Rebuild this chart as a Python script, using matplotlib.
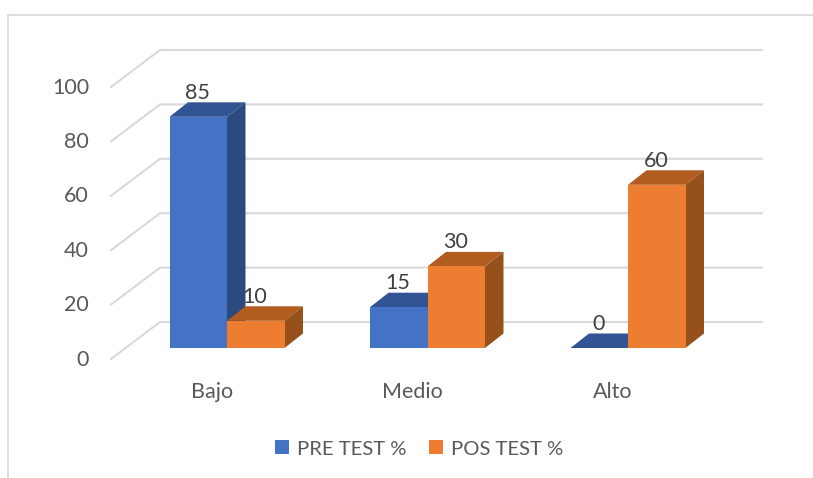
import matplotlib
matplotlib.use('Agg')
import matplotlib.pyplot as plt
from matplotlib.patches import Polygon, Patch

plt.rcParams['font.family'] = ['Lato', 'DejaVu Sans']

categories = ['Bajo', 'Medio', 'Alto']
pre_test = [85, 15, 0]
pos_test = [10, 30, 60]
y_ticks = [0, 20, 40, 60, 80, 100]
series_names = ['PRE TEST %', 'POS TEST %']

blue = ['#4472C4', '#325494', '#2A4A80']
orange = ['#ED7D31', '#B25C1F', '#955119']
grid_color = '#D9D9D9'
text_color = '#595959'
label_color = '#404040'

# scale of the chart, in pixels
px_per_cat = 200.5
px_per_val = 2.72
x0_px = 227
y0_px = 348
W, H = 813, 478

fig = plt.figure(figsize=(W / 100, H / 100), dpi=100)
ax = fig.add_axes([0, 0, 1, 1])
ax.set_xlim(-x0_px / px_per_cat, (W - x0_px) / px_per_cat)
ax.set_ylim((y0_px - H) / px_per_val, y0_px / px_per_val)
ax.axis('off')


def dx(px):
    return px / px_per_cat


def dy(px):
    return px / px_per_val


bar_w = dx(57.5)
depth_x = dx(18.5)
depth_y = dy(14.5)


def draw_bar(left, value, colors, z):
    right = left + bar_w
    ax.add_patch(Polygon([(left, 0), (right, 0), (right, value), (left, value)],
                         facecolor=colors[0], edgecolor='none', zorder=z + 0.2))
    ax.add_patch(Polygon([(left, value), (right, value),
                          (right + depth_x, value + depth_y), (left + depth_x, value + depth_y)],
                         facecolor=colors[1], edgecolor='none', zorder=z))
    ax.add_patch(Polygon([(right, 0), (right + depth_x, depth_y),
                          (right + depth_x, value + depth_y), (right, value)],
                         facecolor=colors[2], edgecolor='none', zorder=z))
    ax.text(left + bar_w / 2 - dx(1), value + dy(24), str(value), ha='center', va='center',
            fontsize=15.5, color=label_color, zorder=10)


# gridlines on the side wall and the back wall
wall_left = (111 - x0_px) / px_per_cat
wall_back = (160 - x0_px) / px_per_cat
wall_right = (762 - x0_px) / px_per_cat
for v in y_ticks:
    front = v - dy(11)
    back = v + dy(26)
    ax.plot([wall_left, wall_back, wall_right], [front, back, back],
            color=grid_color, lw=1.5, zorder=1, solid_joinstyle='miter')
    ax.text(dx(-138), front - dy(0.5), str(v), ha='right', va='center',
            fontsize=15.5, color=text_color)

for i, cat in enumerate(categories):
    draw_bar(i - bar_w, pre_test[i], blue, 3 + i)
    draw_bar(i, pos_test[i], orange, 3.5 + i)
    ax.text(i - dx(15), dy(-43.5), cat, ha='center', va='center',
            fontsize=15.5, color=text_color)

handles = [Patch(facecolor=blue[0]), Patch(facecolor=orange[0])]
ax.legend(handles, series_names, loc='center', bbox_to_anchor=(419 / W, 1 - 449 / H),
          ncol=2, frameon=False, prop={'size': 14.6}, labelcolor=text_color,
          handlelength=0.68, handleheight=0.68, handletextpad=0.4, columnspacing=1.1)

# chart frame, cut off at the right and bottom of the picture
fig.add_artist(plt.Line2D([7.5 / W, 7.5 / W, 1], [0, 1 - 15 / H, 1 - 15 / H],
                          color=grid_color, lw=1.3))

fig.savefig('out.png', dpi=100, facecolor='white')
